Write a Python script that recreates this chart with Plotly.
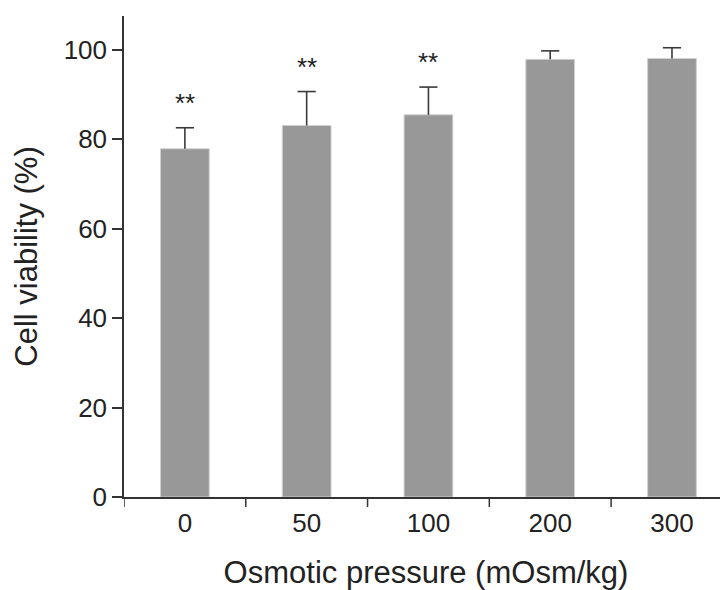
import plotly.graph_objects as go

categories = ["0", "50", "100", "200", "300"]
viability = [77.9, 83.1, 85.5, 97.9, 98.1]
error_up = [4.7, 7.6, 6.2, 1.9, 2.4]
significance = ["**", "**", "**", "", ""]
y_ticks = [0, 20, 40, 60, 80, 100]

font_family = "Liberation Sans, Arial, sans-serif"
xs = list(range(len(categories)))
err_color = "#3a3a3a"

fig = go.Figure()
fig.add_trace(go.Bar(
    x=xs,
    y=viability,
    width=0.4,
    marker=dict(color="#989898", line=dict(color="#d0d0d0", width=1)),
    showlegend=False,
))

# upper error bars (stem + top cap only)
ex, ey = [], []
for i, v, e in zip(xs, viability, error_up):
    ex += [i, i, None]
    ey += [v, v + e, None]
fig.add_trace(go.Scatter(
    x=ex, y=ey, mode="lines",
    line=dict(color=err_color, width=1.6),
    showlegend=False, hoverinfo="skip",
))
fig.add_trace(go.Scatter(
    x=xs, y=[v + e for v, e in zip(viability, error_up)], mode="markers",
    marker=dict(symbol="line-ew-open", size=13, color=err_color,
                line=dict(color=err_color, width=1.6)),
    showlegend=False, hoverinfo="skip",
))

for i, (v, e, s) in enumerate(zip(viability, error_up, significance)):
    if s:
        fig.add_annotation(x=i, y=v + e, text=s, showarrow=False,
                           yanchor="bottom", yshift=8,
                           font=dict(family=font_family, size=26, color="#222"))

# page body has an 8px margin, so the figure is 8px smaller and offset
fig.update_layout(
    width=720, height=582,
    margin=dict(l=116, r=0, t=8, b=93),
    plot_bgcolor="white", paper_bgcolor="white",
    font=dict(family=font_family, color="#222"),
)
fig.update_xaxes(
    range=[-0.5, 4.46],
    tickmode="array",
    tickvals=xs,
    ticktext=categories,
    showline=True, linecolor="#333", linewidth=1.5,
    ticks="outside", ticklen=2, tickcolor="rgba(0,0,0,0)",
    showgrid=False, zeroline=False,
    tickfont=dict(size=26, color="#222"),
    title=dict(text="Osmotic pressure (mOsm/kg)", font=dict(size=31, color="#222"), standoff=26),
)
# tick marks between categories
for k in xs:
    fig.add_shape(type="line", xref="x", yref="paper",
                  x0=k - 0.5, x1=k - 0.5, y0=0, y1=-0.021,
                  line=dict(color="#333", width=1.5))

fig.update_yaxes(
    range=[0, 107.6],
    tickmode="array", tickvals=y_ticks,
    showline=True, linecolor="#333", linewidth=1.5,
    ticks="outside", ticklen=10, tickwidth=1.5, tickcolor="#333",
    showgrid=False, zeroline=False,
    tickfont=dict(size=26, color="#222"),
    title=dict(text="Cell viability (%)", font=dict(size=31, color="#222"), standoff=17),
)

fig.write_html("out.html")
